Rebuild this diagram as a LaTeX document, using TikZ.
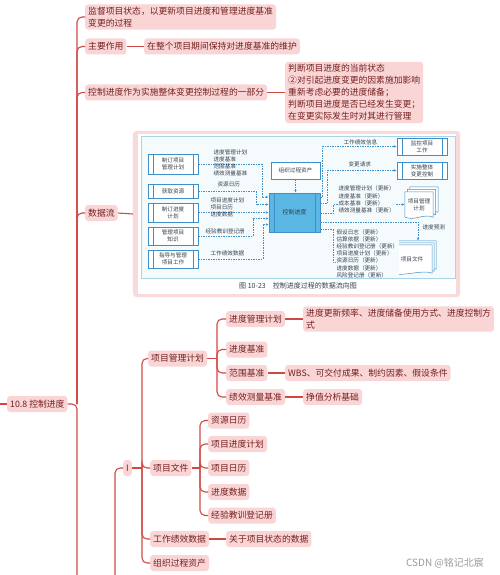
\documentclass[tikz,border=0pt]{standalone}
\usepackage{fontspec}
\setmainfont{Noto Sans CJK SC}
\newfontfamily\cjk{Noto Sans CJK SC}
\usetikzlibrary{arrows.meta,calc}
\definecolor{linkred}{HTML}{CF4A45}
\definecolor{topicfill}{HTML}{F9D5D6}
\definecolor{topictext}{HTML}{74201F}
\definecolor{figline}{HTML}{3F90C9}
\definecolor{figcyan}{HTML}{5BB8E4}
\definecolor{figframe}{HTML}{A9D4EA}
\definecolor{figbg}{HTML}{F5FAFD}
\definecolor{figtext}{HTML}{34404C}
\definecolor{pinkfill}{HTML}{F8DADA}
\pgfdeclarelayer{background}
\pgfsetlayers{background,main}
% one page of a stacked document symbol, shifted by (#2,#3)
\newcommand{\docpage}[3]{%
  \draw[figline,line width=0.5pt,fill=white] ([shift={(#2,#3)}]#1.south west) -- ([shift={(#2,#3)}]#1.north west)
    -- ([shift={(#2,#3)}]#1.north east) -- ([shift={(#2,#3)}]#1.south east)
    .. controls ([shift={(#2-10,#3-4)}]#1.south east) and ([shift={(#2+10,#3+4)}]#1.south west) .. ([shift={(#2,#3)}]#1.south west) -- cycle;}

\begin{document}
\begin{tikzpicture}[x=1pt,y=-1pt,
  every node/.style={font=\cjk\fontsize{8.8}{12}\selectfont},
  topic/.style={fill=topicfill,text=topictext,rounded corners=3pt,anchor=west,align=left,inner xsep=3pt,inner ysep=2.5pt,minimum height=16pt},
  link/.style={linkred,line width=1.1pt,rounded corners=5pt},
  figholder/.style={minimum width=327pt,minimum height=166pt,inner sep=0pt},
  figfont/.style={font=\cjk\fontsize{5.6}{7.2}\selectfont,text=figtext},
  plainbox/.style={figfont,draw=figline,fill=white,line width=0.5pt,align=center,minimum width=50pt,inner sep=1pt},
  proc/.style={plainbox,path picture={\draw[figline,line width=0.5pt]
      ([xshift=5pt]path picture bounding box.north west) -- ([xshift=5pt]path picture bounding box.south west)
      ([xshift=-5pt]path picture bounding box.north east) -- ([xshift=-5pt]path picture bounding box.south east);}},
  ctlbox/.style={proc,fill=figcyan,minimum width=51pt,minimum height=39pt,font=\cjk\fontsize{6}{7}\selectfont},
  docnode/.style={figfont,align=center,inner sep=1pt},
  flab/.style={figfont,anchor=west,align=left,inner sep=0.4pt},
  masklab/.style={flab,fill=figbg},
  flowline/.style={figline,line width=0.5pt,dash pattern=on 1.5pt off 1pt,-{Latex[length=3pt,width=2.4pt]}},
  wmtext/.style={font=\cjk\fontsize{10}{12}\selectfont,text=black!40}]
\useasboundingbox (0,0) rectangle (499,575);

% mind map
\node[topic] (root) at (7,404) {10.8 控制进度};
\node[topic] (def) at (85,17) {监督项目状态，以更新项目进度和管理进度基准\\变更的过程};
\node[topic] (role) at (85,46.5) {主要作用};
\node[topic] (rolet) at (144,46.5) {在整个项目期间保持对进度基准的维护};
\node[topic] (part) at (85,92.5) {控制进度作为实施整体变更控制过程的一部分};
\node[topic] (partt) at (285,92.5) {判断项目进度的当前状态\\②对引起进度变更的因素施加影响\\重新考虑必要的进度储备；\\判断项目进度是否已经发生变更；\\在变更实际发生时对其进行管理};
\node[topic] (flow) at (85,213) {数据流};
\node[figholder] (fig) at (296.5,214) {};

\node[topic] (inp) at (123,468) {I};
\node[topic] (pmp) at (148,358.5) {项目管理计划};
\node[topic] (smp) at (226,319) {进度管理计划};
\node[topic] (smpt) at (303,319) {进度更新频率、进度储备使用方式、进度控制方\\式};
\node[topic] (sb) at (226,349.5) {进度基准};
\node[topic] (scb) at (226,373) {范围基准};
\node[topic] (scbt) at (285,373) {WBS、可交付成果、制约因素、假设条件};
\node[topic] (pmb) at (226,397) {绩效测量基准};
\node[topic] (pmbt) at (303,397) {挣值分析基础};
\node[topic] (pdoc) at (150,468) {项目文件};
\node[topic] (rc) at (208,420.5) {资源日历};
\node[topic] (ss) at (208,444) {项目进度计划};
\node[topic] (pc) at (208,468) {项目日历};
\node[topic] (sd) at (208,492) {进度数据};
\node[topic] (ll) at (208,515.5) {经验教训登记册};
\node[topic] (wpd) at (150,539) {工作绩效数据};
\node[topic] (wpdt) at (226,539) {关于项目状态的数据};
\node[topic] (opa) at (150,563) {组织过程资产};
\node[wmtext] (wm) at (445,563) {CSDN @铭记北宸};

\coordinate (rootin) at (0,404);
\coordinate (rootsp) at (77,404);
\coordinate (rootend) at (77,575);
\coordinate (inpend) at (115,575);
\coordinate (inpsp) at (142,468);
\coordinate (pmpsp) at (217,358.5);
\coordinate (pdocsp) at (200,468);
\draw[link] (rootin) -- (root.west);
\draw[link] (root.east) -- (rootsp) -- (rootend);
\foreach \c in {def,role,part,flow} \draw[link] (rootsp) |- (\c.west);
\draw[link] (role.east) -- (rolet.west);
\draw[link] (part.east) -- (partt.west);
\draw[link] (flow.east) -- (fig.west);
\draw[link] (inpend) |- (inp.west);
\draw[link] (inp.east) -- (inpsp);
\foreach \c in {pmp,pdoc,wpd,opa} \draw[link] (inpsp) |- (\c.west);
\draw[link] (pmp.east) -- (pmpsp);
\foreach \c in {smp,sb,scb,pmb} \draw[link] (pmpsp) |- (\c.west);
\draw[link] (smp.east) -- (smpt.west);
\draw[link] (scb.east) -- (scbt.west);
\draw[link] (pmb.east) -- (pmbt.west);
\draw[link] (pdoc.east) -- (pdocsp);
\foreach \c in {rc,ss,pc,sd,ll} \draw[link] (pdocsp) |- (\c.west);
\draw[link] (wpd.east) -- (wpdt.west);

% data flow figure
\node[proc,minimum height=20pt] (mkpmp) at (173,164) {制订项目\\管理计划};
\node[proc,minimum height=14pt] (acq) at (173,191) {获取资源};
\node[proc,minimum height=19pt] (mksch) at (173,212.5) {制订进度\\计划};
\node[proc,minimum height=18pt] (mgk) at (173,236) {管理项目\\知识};
\node[proc,minimum height=18pt] (dmw) at (173,259) {指导与管理\\项目工作};
\node[ctlbox] (ctl) at (294.5,212.5) {控制进度};
\node[plainbox,minimum width=49pt,minimum height=17pt] (opaf) at (295.5,170.5) {组织过程资产};
\node[proc,minimum height=17pt] (mon) at (422,146.5) {监控项目\\工作};
\node[proc,minimum height=17pt] (icc) at (422,170.5) {实施整体\\变更控制};
\node[docnode,minimum width=28pt,minimum height=25pt] (pmpdoc) at (419,204.5) {项目管理\\计划};
\node[docnode,minimum width=40pt,minimum height=28pt] (pfdoc) at (412,259) {项目文件};

\node[flab] (lab1) at (213,163) {进度管理计划\\进度基准\\范围基准\\绩效测量基准};
\node[flab] (lab2) at (217,184) {资源日历};
\node[flab] (lab3) at (210,207.5) {项目进度计划\\项目日历\\进度数据};
\node[flab] (lab4) at (205,231) {经验教训登记册};
\node[flab] (lab5) at (210,253) {工作绩效数据};
\node[flab] (lab6) at (343,142) {工作绩效信息};
\node[flab] (lab7) at (348,164) {变更请求};
\node[masklab] (lab8) at (338,199.5) {进度管理计划（更新）\\进度基准（更新）\\成本基准（更新）\\绩效测量基准（更新）};
\node[flab] (lab9) at (422,227) {进度预测};
\node[masklab] (lab10) at (336,253.5) {假设日志（更新）\\估算依据（更新）\\经验教训登记册（更新）\\项目进度计划（更新）\\资源日历（更新）\\进度数据（更新）\\风险登记册（更新）};
\node[figfont,font=\cjk\fontsize{7}{8}\selectfont] (cap) at (298,286) {图 10-23\quad 控制进度过程的数据流向图};

\begin{pgfonlayer}{background}
\fill[pinkfill,rounded corners=4pt] (fig.north west) rectangle (fig.south east);
\fill[white] ([shift={(5,3)}]fig.north west) rectangle ([shift={(-4,-3)}]fig.south east);
\draw[figframe,fill=figbg,line width=0.7pt] (141,136) rectangle (455,278);
\docpage{pmpdoc}{5}{-5}
\docpage{pmpdoc}{2.5}{-2.5}
\docpage{pmpdoc}{0}{0}
\docpage{pfdoc}{4}{-4}
\docpage{pfdoc}{2}{-2}
\docpage{pfdoc}{0}{0}
\draw[flowline] (mkpmp.east) -| ([xshift=-7pt,yshift=15.5pt]ctl.west) -- ([yshift=15.5pt]ctl.west);
\draw[flowline] (acq.east) -| ([xshift=-13pt,yshift=8pt]ctl.west) -- ([yshift=8pt]ctl.west);
\draw[flowline] (mksch.east) -- (ctl.west);
\draw[flowline] (mgk.east) -| ([xshift=-16pt,yshift=-6pt]ctl.west) -- ([yshift=-6pt]ctl.west);
\draw[flowline] (dmw.east) -| ([xshift=-6pt,yshift=-12pt]ctl.west) -- ([yshift=-12pt]ctl.west);
\draw[flowline] (opaf.south) -- (opaf.south |- ctl.north);
\draw[flowline] ([yshift=15.5pt]ctl.east) -- ++(2,0) |- (mon.west);
\draw[flowline] ([yshift=9pt]ctl.east) -- ++(7,0) |- (icc.west);
\draw[flowline] ([yshift=-1pt]ctl.east) -- ++(13,0) |- (pmpdoc.west);
\draw[flowline] ([yshift=-9.5pt]ctl.east) -| ([xshift=6pt,yshift=4pt]pfdoc.north);
\draw[flowline] ([yshift=-17pt]ctl.east) -- ++(13,0) |- ([yshift=-3pt]pfdoc.west);
\end{pgfonlayer}
\end{tikzpicture}
\end{document}
